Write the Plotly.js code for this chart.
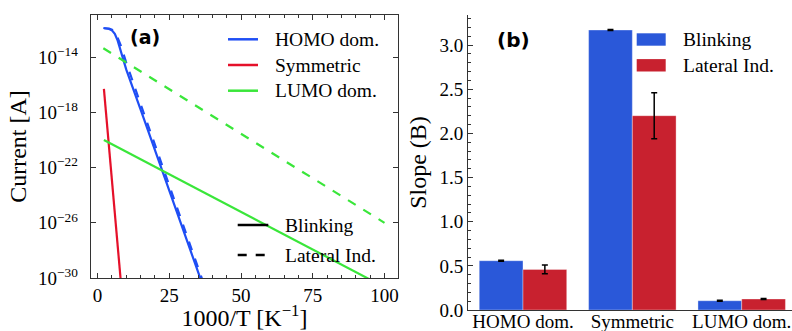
<!DOCTYPE html>
<html>
<head>
<meta charset="utf-8">
<script src="https://cdn.plot.ly/plotly-3.0.1.min.js"></script>
<style>html,body{margin:0;padding:0;background:#fff;overflow:hidden}</style>
</head>
<body>
<div id="chart" style="width:792px;height:331px"></div>
<script>
// ---------- Panel (a): current vs 1000/T (values are log10 of current in A) ----------
const homoBlinkX   = [2, 4, 5, 6, 7, 8, 9, 10, 15, 20, 25, 30, 35, 36.2];
const homoBlinkLog = [-11.88, -11.95, -12.05, -12.3, -12.8, -13.55, -14.3, -14.9, -17.8, -20.7, -23.6, -26.55, -29.55, -30.25];
const homoLatX     = [2.3, 4, 5, 6, 7, 8, 9, 10, 15, 20, 25, 30, 35, 36.8];
const homoLatLog   = [-11.9, -11.92, -12.0, -12.2, -12.6, -13.1, -13.75, -14.4, -17.4, -20.35, -23.3, -26.3, -29.25, -30.3];
const symBlinkX    = [2.2, 8.2];
const symBlinkLog  = [-16.3, -30.5];
const lumoBlinkX   = [2.2, 100];
const lumoBlinkLog = [-20.0, -30.66];
const lumoLatX     = [2, 100];
const lumoLatLog   = [-13.35, -26.0];

const seriesNamesA = ['HOMO dom.', 'Symmetric', 'LUMO dom.'];
const styleNames   = ['Blinking', 'Lateral Ind.'];
const yTickExp     = [-30, -26, -22, -18, -14];
const yTickText    = yTickExp.map(e => '10<sup>\u2212' + Math.abs(e) + '</sup>');

// ---------- Panel (b): slopes ----------
const categories   = ['HOMO dom.', 'Symmetric', 'LUMO dom.'];
const slopeBlink   = [0.558, 3.17, 0.105];
const slopeBlinkEr = [0.006, 0.006, 0.005];
const slopeLat     = [0.46, 2.20, 0.125];
const slopeLatEr   = [0.05, 0.26, 0.005];

const cBlue = '#1f4ef5', cRed = '#e5102a', cGreen = '#3ae63a';
const lineColors = [cBlue, cRed, cGreen];
const barBlue = '#2a58d9', barRed = '#c8212f';
const axCol = '#333';
const serif = 'Liberation Serif';
const pw = v => Math.pow(10, v);
const W = 792, H = 331;
const px = v => v / W, py = v => 1 - v / H;

const traces = [
  {x: homoBlinkX, y: homoBlinkLog.map(pw), mode:'lines', line:{color:cBlue, width:2.2}, name: seriesNamesA[0] + ' (' + styleNames[0] + ')', xaxis:'x', yaxis:'y'},
  {x: homoLatX, y: homoLatLog.map(pw), mode:'lines', line:{color:cBlue, width:2.2, dash:'dash'}, name: seriesNamesA[0] + ' (' + styleNames[1] + ')', xaxis:'x', yaxis:'y'},
  {x: symBlinkX, y: symBlinkLog.map(pw), mode:'lines', line:{color:cRed, width:2.2}, name: seriesNamesA[1] + ' (' + styleNames[0] + ')', xaxis:'x', yaxis:'y'},
  {x: lumoBlinkX, y: lumoBlinkLog.map(pw), mode:'lines', line:{color:cGreen, width:2.2}, name: seriesNamesA[2] + ' (' + styleNames[0] + ')', xaxis:'x', yaxis:'y'},
  {x: lumoLatX, y: lumoLatLog.map(pw), mode:'lines', line:{color:cGreen, width:2.2, dash:'dash'}, name: seriesNamesA[2] + ' (' + styleNames[1] + ')', xaxis:'x', yaxis:'y'},
  {type:'bar', x: categories, y: slopeBlink, name: styleNames[0], marker:{color: barBlue, line:{color:'rgba(255,255,255,0.35)', width:1}},
   error_y:{type:'data', array: slopeBlinkEr, color:'#000', thickness:1.5, width:3}, xaxis:'x2', yaxis:'y2'},
  {type:'bar', x: categories, y: slopeLat, name: styleNames[1], marker:{color: barRed, line:{color:'rgba(255,255,255,0.35)', width:1}},
   error_y:{type:'data', array: slopeLatEr, color:'#000', thickness:1.5, width:3}, xaxis:'x2', yaxis:'y2'}
];

const tickCommon = {ticks:'inside', tickcolor:axCol, tickwidth:1, showline:true, linecolor:axCol, linewidth:1.3,
  showgrid:false, zeroline:false, tickfont:{family:serif, size:19, color:'#000'}};

// legend keys (shapes) and legend labels (annotations)
const shapes = [];
const annotations = [];
const legA_rows = [39.3, 65, 90.7];
seriesNamesA.forEach((n, i) => {
  shapes.push({type:'line', xref:'paper', yref:'paper', x0:px(228), x1:px(258), y0:py(legA_rows[i]), y1:py(legA_rows[i]),
    line:{color: lineColors[i], width:2.5}});
  annotations.push({text:n, xref:'paper', yref:'paper', x:px(273), y:py(legA_rows[i]), xanchor:'left', yanchor:'middle',
    showarrow:false, font:{family:serif, size:19.5, color:'#000'}});
});
const legA2_rows = [225, 255];
const legB_rows = [39.5, 65.3];
const barColors = [barBlue, barRed];
styleNames.forEach((n, i) => {
  shapes.push({type:'line', xref:'paper', yref:'paper', x0:px(237.7), x1:px(268.3), y0:py(legA2_rows[i]), y1:py(legA2_rows[i]),
    line:{color:'#000', width:2.5, dash: i === 0 ? 'solid' : 'dash'}});
  annotations.push({text:n, xref:'paper', yref:'paper', x:px(282.7), y:py(legA2_rows[i]), xanchor:'left', yanchor:'middle',
    showarrow:false, font:{family:serif, size:19.5, color:'#000'}});
  shapes.push({type:'rect', xref:'paper', yref:'paper', x0:px(636.7), x1:px(665.7), y0:py(legB_rows[i] + 6.2), y1:py(legB_rows[i] - 6.2),
    fillcolor: barColors[i], line:{width:0}});
  annotations.push({text:n, xref:'paper', yref:'paper', x:px(681), y:py(legB_rows[i]), xanchor:'left', yanchor:'middle',
    showarrow:false, font:{family:serif, size:19.5, color:'#000'}});
});
annotations.push({text:'<b>(a)</b>', xref:'paper', yref:'paper', x:px(145), y:py(37), xanchor:'center', yanchor:'middle', showarrow:false, font:{family:'DejaVu Sans', size:19, color:'#000'}});
annotations.push({text:'<b>(b)</b>', xref:'paper', yref:'paper', x:px(513), y:py(40), xanchor:'center', yanchor:'middle', showarrow:false, font:{family:'DejaVu Sans', size:20, color:'#000'}});

const layout = {
  width:W, height:H, margin:{l:0, r:0, t:0, b:0},
  paper_bgcolor:'#fff', plot_bgcolor:'#fff',
  font:{family:serif, color:'#000'},
  showlegend:false,
  barmode:'group', bargap:0.2, bargroupgap:0,
  xaxis: Object.assign({}, tickCommon, {domain:[0.1149, 0.5025], anchor:'y', range:[-2.3, 104.7],
    tick0:0, dtick:25, ticklen:5, mirror:'ticks', minor:{dtick:5, ticklen:3, ticks:'inside', tickcolor:axCol},
    title:{text:'1000/T [K<sup>\u22121</sup>]', font:{family:serif, size:24}, standoff:9}}),
  yaxis: Object.assign({}, tickCommon, {domain:[0.160, 0.9547], anchor:'x', type:'log', range:[-30, -10.94],
    tickvals: yTickExp.map(pw), ticktext: yTickText, ticklen:5, mirror:'ticks', ticklabelstandoff:8,
    title:{text:'Current [A]', font:{family:serif, size:24}, standoff:4}}),
  xaxis2: Object.assign({}, tickCommon, {domain:[0.5913, 1], anchor:'y2', type:'category', range:[-0.5, 2.46],
    ticks:'', showline:true, ticklabelstandoff:-6}),
  xaxis3: Object.assign({}, tickCommon, {overlaying:'x2', anchor:'y2', side:'top', type:'linear', range:[-0.5, 2.46],
    tick0:0, dtick:1, ticklen:5, showticklabels:false, minor:{dtick:0.2, ticklen:3, ticks:'inside', tickcolor:axCol}}),
  yaxis2: Object.assign({}, tickCommon, {domain:[0.0634, 0.9547], anchor:'x2', range:[0, 3.34],
    dtick:0.5, tick0:0, tickformat:'.1f', ticklen:5, minor:{dtick:0.1, ticklen:3, ticks:'inside', tickcolor:axCol},
    title:{text:'Slope (B)', font:{family:serif, size:24}, standoff:6}}),
  shapes: shapes,
  annotations: annotations
};

Plotly.newPlot('chart', traces, layout, {displayModeBar:false, staticPlot:true});
</script>
</body>
</html>
